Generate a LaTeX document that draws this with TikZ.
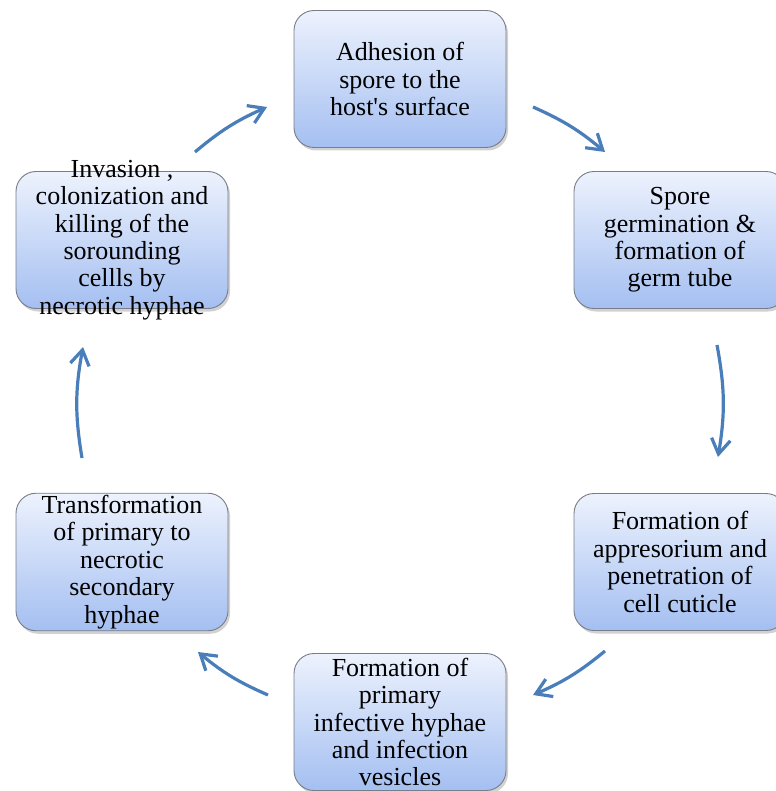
\documentclass[tikz,border=0pt]{standalone}
\usepackage{fontspec}
\setmainfont{Liberation Serif}[Ligatures=TeXOff]
\usetikzlibrary{arrows.meta,shadows}
\definecolor{boxtop}{RGB}{237,242,253}
\definecolor{boxbot}{RGB}{164,191,241}
\definecolor{boxline}{RGB}{120,125,135}
\definecolor{arrowblue}{RGB}{74,126,187}
\tikzset{
  stagebox/.style={rectangle, rounded corners=20pt, draw=boxline, line width=0.9pt,
    top color=boxtop, bottom color=boxbot, minimum width=212pt, minimum height=137pt,
    align=center, text=black, inner xsep=2pt, inner ysep=2pt,
    font=\fontsize{26pt}{27.4pt}\selectfont,
    drop shadow={shadow xshift=2pt, shadow yshift=-3pt, opacity=0.3, fill=black!60}},
  cyclearrow/.style={draw=arrowblue, line width=3.2pt,
    -{Straight Barb[length=15pt,width=19pt]}}
}
\begin{document}
\begin{tikzpicture}[x=1pt,y=-1pt]
\useasboundingbox (0,0) rectangle (775,791);
\node[stagebox] (A) at (400,79) {Adhesion of\\spore to the\\host's surface};
\node[stagebox] (B) at (680,240) {Spore\\germination \&\\formation of\\germ tube};
\node[stagebox] (C) at (680,562) {Formation of\\appresorium and\\penetration of\\cell cuticle};
\node[stagebox] (D) at (400,722) {Formation of\\primary\\infective hyphae\\and infection\\vesicles};
\node[stagebox] (E) at (122,562) {Transformation\\of primary to\\necrotic\\secondary\\hyphae};
\node[stagebox, inner ysep=-16pt] (F) at (122,240) {Invasion ,\\colonization and\\killing of the\\sorounding\\cellls by\\necrotic hyphae};
\coordinate (fa1) at (195,152);
\coordinate (fa2) at (267,107);
\coordinate (ab1) at (533,107);
\coordinate (ab2) at (605,152);
\coordinate (bc1) at (717,345);
\coordinate (bc2) at (718,457);
\coordinate (cd1) at (605,651);
\coordinate (cd2) at (533,695);
\coordinate (de1) at (268,695);
\coordinate (de2) at (198,652);
\coordinate (ef1) at (82,458);
\coordinate (ef2) at (83,347);
\draw[cyclearrow] (fa1) to[bend left=8] (fa2);
\draw[cyclearrow] (ab1) to[bend left=8] (ab2);
\draw[cyclearrow] (bc1) to[bend left=10] (bc2);
\draw[cyclearrow] (cd1) to[bend left=8] (cd2);
\draw[cyclearrow] (de1) to[bend left=8] (de2);
\draw[cyclearrow] (ef1) to[bend left=10] (ef2);
\end{tikzpicture}
\end{document}
